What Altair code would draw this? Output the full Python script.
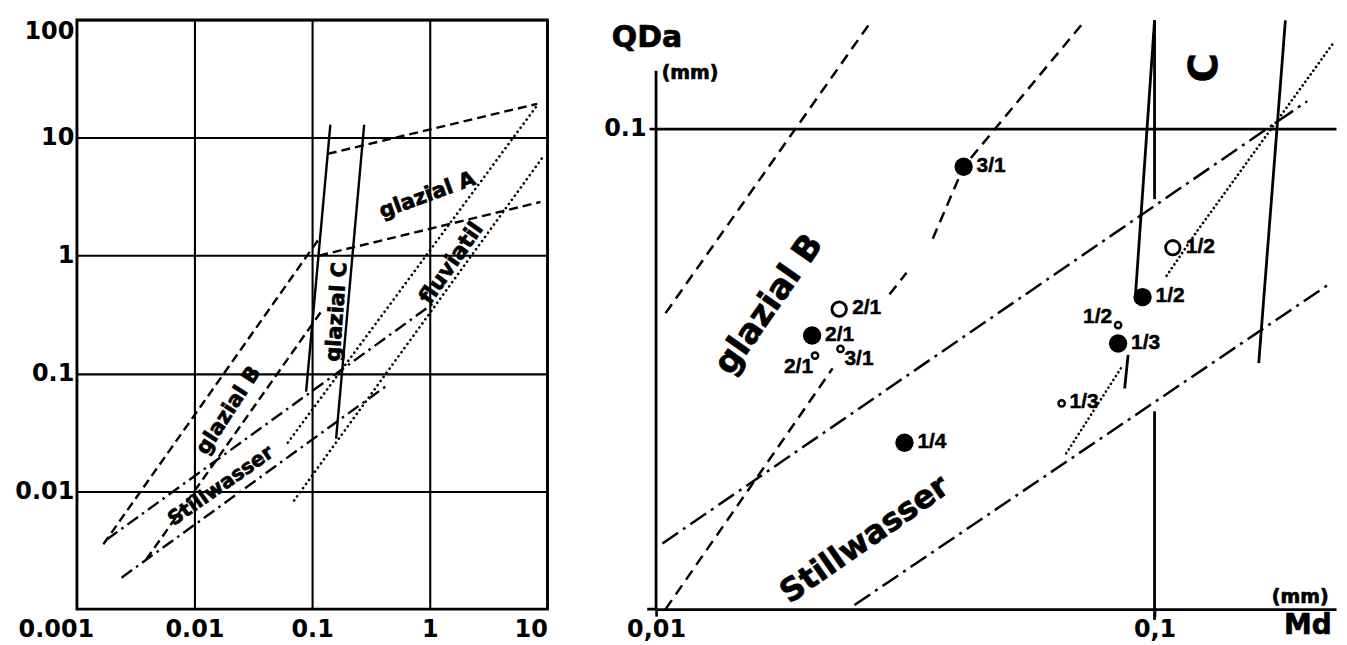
import altair as alt
import pandas as pd

FONT = "DejaVu Sans"
LBLFONT = "Liberation Sans"

# ================= LEFT DIAGRAM (Md vs QDa, log-log) =================
left_x_ticks = [0.001, 0.01, 0.1, 1, 10]
left_y_ticks = [0.01, 0.1, 1, 10, 100]

# dashed boundaries
glazial_a_upper_x = [0.136, 8.2]
glazial_a_upper_y = [7.31, 19.4]
glazial_a_lower_x = [0.115, 8.73]
glazial_a_lower_y = [1.0, 2.85]
glazial_b_upper_x = [0.00168, 0.118]
glazial_b_upper_y = [0.00355, 1.45]
glazial_b_lower_x = [0.0039, 0.122]
glazial_b_lower_y = [0.00265, 0.345]
# solid boundaries (glazial C)
glazial_c_left_x = [0.143, 0.089]
glazial_c_left_y = [12.9, 0.07]
glazial_c_right_x = [0.277, 0.16]
glazial_c_right_y = [12.9, 0.028]
# dash-dot boundaries (Stillwasser)
still_upper_x = [0.0018, 1.1]
still_upper_y = [0.0039, 0.40]
still_lower_x = [0.0024, 0.44]
still_lower_y = [0.00185, 0.080]
# dotted boundaries (fluviatil)
fluv_upper_x = [0.0622, 8.36]
fluv_upper_y = [0.0259, 19.4]
fluv_lower_x = [0.0703, 8.97]
fluv_lower_y = [0.00836, 6.68]

left_text = ["glazial A", "glazial C", "fluviatil", "glazial B", "Stillwasser"]
left_text_x = [0.956, 0.163, 1.52, 0.0196, 0.01675]
left_text_y = [3.24, 0.332, 0.863, 0.0483, 0.0111]

# ================= RIGHT DIAGRAM (enlarged section) =================
right_x_ticks = [0.01, 0.1]
right_y_ticks = [0.1]

# dashed (glazial B)
r_dash1_x = [0.01045, 0.0271]
r_dash1_y = [0.0413, 0.168]
r_dash2a_x = [0.01045, 0.0226]
r_dash2a_y = [0.0100, 0.0317]
r_dash2b_x = [0.0294, 0.0318]
r_dash2b_y = [0.0452, 0.0501]
r_dash2c_x = [0.0359, 0.0414, 0.0726]
r_dash2c_y = [0.059, 0.0833, 0.168]
# solid (glazial C, axis and grid pieces)
r_c_left_x = [0.1, 0.0916]
r_c_left_y = [0.168, 0.0453]
r_c_left_low_x = [0.0885, 0.0871]
r_c_left_low_y = [0.0338, 0.0288]
r_c_right_x = [0.183, 0.1618]
r_c_right_y = [0.168, 0.0325]
r_grid_low_x = [0.1, 0.1]
r_grid_low_y = [0.0095, 0.0258]
r_grid_up_x = [0.1, 0.1]
r_grid_up_y = [0.0713, 0.168]
r_yaxis_x = [0.01, 0.01]
r_yaxis_y = [0.01, 0.132]
r_xaxis_x = [0.0096, 0.01]
r_xaxis_y = [0.01, 0.01]
# dash-dot (Stillwasser)
r_still_upper_x = [0.0103, 0.2023]
r_still_upper_y = [0.0137, 0.114]
r_still_lower_x = [0.025, 0.2236]
r_still_lower_y = [0.0102, 0.0474]
# dotted (fluviatil)
r_fluv_a_x = [0.0665, 0.0864]
r_fluv_a_y = [0.0211, 0.0322]
r_fluv_b_x = [0.1057, 0.122, 0.2285]
r_fluv_b_y = [0.0494, 0.0614, 0.1508]

# samples
pt_label = ["3/1", "2/1", "1/4", "1/2", "1/3", "2/1", "1/2", "2/1", "3/1", "1/2", "1/3"]
pt_x = [0.0414, 0.02056, 0.0315, 0.0946, 0.0845, 0.0233, 0.1088, 0.02084, 0.02344, 0.0845, 0.0651]
pt_y = [0.0833, 0.0371, 0.0222, 0.0446, 0.0357, 0.0421, 0.0565, 0.0337, 0.0348, 0.039, 0.0268]
pt_kind = ["filled", "filled", "filled", "filled", "filled", "open", "open",
           "small", "small", "small", "small"]
pt_pos = ["right", "right", "right", "right", "right", "right", "right",
          "below_left", "below_right", "above_left", "right_small"]

right_text = ["glazial B", "Stillwasser", "C", "QDa", "(mm)", "(mm)", "Md"]
right_text_x = [0.01686, 0.0262, 0.126, 0.00959, 0.0117, 0.196, 0.2031]
right_text_y = [0.0430, 0.01396, 0.1338, 0.1545, 0.1307, 0.0106, 0.00922]


# ---------------- helpers ----------------
def add_line(rows, name, style, xs, ys):
    for i, (x, y) in enumerate(zip(xs, ys)):
        rows.append({"id": name, "style": style, "o": i, "x": x, "y": y})


def line_layer(df, style, X, Y, **mk):
    return (alt.Chart(df)
            .transform_filter(alt.datum.style == style)
            .mark_line(color="black", **mk)
            .encode(x=X, y=Y, detail="id:N", order="o:Q"))


def text_layer(txt, x, y, X, Y, **mk):
    df = pd.DataFrame({"t": [txt], "x": [x], "y": [y]})
    return (alt.Chart(df)
            .mark_text(font=FONT, fontWeight="bold", color="black",
                       stroke="black", strokeWidth=0.7,
                       align="center", baseline="middle", **mk)
            .encode(x=X, y=Y, text="t:N"))


# ---------------- left chart ----------------
lrows = []
add_line(lrows, "gA_up", "dash", glazial_a_upper_x, glazial_a_upper_y)
add_line(lrows, "gA_lo", "dash", glazial_a_lower_x, glazial_a_lower_y)
add_line(lrows, "gB_up", "dash", glazial_b_upper_x, glazial_b_upper_y)
add_line(lrows, "gB_lo", "dash", glazial_b_lower_x, glazial_b_lower_y)
add_line(lrows, "gC_l", "solid", glazial_c_left_x, glazial_c_left_y)
add_line(lrows, "gC_r", "solid", glazial_c_right_x, glazial_c_right_y)
add_line(lrows, "sw_up", "dashdot", still_upper_x, still_upper_y)
add_line(lrows, "sw_lo", "dashdot", still_lower_x, still_lower_y)
add_line(lrows, "fl_up", "dot", fluv_upper_x, fluv_upper_y)
add_line(lrows, "fl_lo", "dot", fluv_lower_x, fluv_lower_y)
left_lines = pd.DataFrame(lrows)

left_x_axis = alt.Axis(
    values=left_x_ticks, format="~g", title=None, grid=True, gridColor="black",
    gridWidth=2.1, gridOpacity=1, ticks=False, domain=False,
    labelFont=FONT, labelFontWeight="bold", labelFontSize=24, labelColor="black",
    labelPadding=8, labelFlush=False, labelOverlap=False,
    labelAlign={"expr": "datum.value > 5 ? 'right' : 'center'"},
    labelOffset={"expr": "datum.value < 0.005 ? -21 : 0"},
)
left_y_axis = alt.Axis(
    values=left_y_ticks, format="~g", title=None, grid=True, gridColor="black",
    gridWidth=2.1, gridOpacity=1, ticks=False, domain=False,
    labelFont=FONT, labelFontWeight="bold", labelFontSize=24, labelColor="black",
    labelPadding=3, labelFlush=True, labelOverlap=False, minExtent=62, maxExtent=62,
)
LX = alt.X("x:Q", scale=alt.Scale(type="log", domain=[0.001, 10], nice=False), axis=left_x_axis)
LY = alt.Y("y:Q", scale=alt.Scale(type="log", domain=[0.001, 100], nice=False), axis=left_y_axis)

left_layers = [
    line_layer(left_lines, "solid", LX, LY, strokeWidth=2.4),
    line_layer(left_lines, "dash", LX, LY, strokeWidth=2.4, strokeDash=[9, 5]),
    line_layer(left_lines, "dashdot", LX, LY, strokeWidth=2.4, strokeDash=[13, 5, 2.5, 5]),
    line_layer(left_lines, "dot", LX, LY, strokeWidth=2.6, strokeDash=[0.1, 5], strokeCap="round"),
]
left_angles = [340, 274, 305, 303, 325]
left_sizes = [21, 21, 22, 21, 20]
for t, x, y, a, s in zip(left_text, left_text_x, left_text_y, left_angles, left_sizes):
    left_layers.append(text_layer(t, x, y, LX, LY, angle=a, fontSize=s))

left = alt.layer(*left_layers).properties(
    width=472, height=591,
    view=alt.ViewBackground(stroke="black", strokeWidth=2.6),
)

# ---------------- right chart ----------------
rrows = []
add_line(rrows, "d1", "dash", r_dash1_x, r_dash1_y)
add_line(rrows, "d2a", "dash", r_dash2a_x, r_dash2a_y)
add_line(rrows, "d2b", "dash", r_dash2b_x, r_dash2b_y)
add_line(rrows, "d2c", "dash", r_dash2c_x, r_dash2c_y)
add_line(rrows, "cl", "solid", r_c_left_x, r_c_left_y)
add_line(rrows, "cll", "solid", r_c_left_low_x, r_c_left_low_y)
add_line(rrows, "cr", "solid", r_c_right_x, r_c_right_y)
add_line(rrows, "gl", "solid", r_grid_low_x, r_grid_low_y)
add_line(rrows, "gu", "solid", r_grid_up_x, r_grid_up_y)
add_line(rrows, "ya", "solid", r_yaxis_x, r_yaxis_y)
add_line(rrows, "xa", "solid", r_xaxis_x, r_xaxis_y)
add_line(rrows, "su", "dashdot", r_still_upper_x, r_still_upper_y)
add_line(rrows, "sl", "dashdot", r_still_lower_x, r_still_lower_y)
add_line(rrows, "fa", "dot", r_fluv_a_x, r_fluv_a_y)
add_line(rrows, "fb", "dot", r_fluv_b_x, r_fluv_b_y)
right_lines = pd.DataFrame(rrows)

right_x_axis = alt.Axis(
    values=right_x_ticks, title=None, grid=False,
    labelExpr="replace(format(datum.value, '~g'), '.', ',')",
    domain=True, domainColor="black", domainWidth=2.8,
    ticks=True, tickSize=7, tickWidth=2.6, tickColor="black",
    labelFont=FONT, labelFontWeight="bold", labelFontSize=24, labelColor="black",
    labelPadding=1, labelFlush=False, labelOverlap=False,
)
right_y_axis = alt.Axis(
    values=right_y_ticks, format="~g", title=None, grid=True, gridColor="black",
    gridWidth=2.6, gridOpacity=1, domain=False,
    ticks=True, tickSize=7, tickWidth=2.6, tickColor="black",
    labelFont=FONT, labelFontWeight="bold", labelFontSize=24, labelColor="black",
    labelPadding=3, labelFlush=False, minExtent=55, maxExtent=55,
)
RX = alt.X("x:Q", scale=alt.Scale(type="log", domain=[0.01, 0.2312], nice=False), axis=right_x_axis)
RY = alt.Y("y:Q", scale=alt.Scale(type="log", domain=[0.01, 0.1683], nice=False), axis=right_y_axis)

pts = pd.DataFrame({"x": pt_x, "y": pt_y, "kind": pt_kind, "label": pt_label, "pos": pt_pos})

right_layers = [
    line_layer(right_lines, "solid", RX, RY, strokeWidth=2.8),
    line_layer(right_lines, "dash", RX, RY, strokeWidth=2.5, strokeDash=[11, 7]),
    line_layer(right_lines, "dashdot", RX, RY, strokeWidth=2.5, strokeDash=[19, 6, 3, 6]),
    line_layer(right_lines, "dot", RX, RY, strokeWidth=2.6, strokeDash=[0.1, 4.5], strokeCap="round"),
    alt.Chart(pts).transform_filter("datum.kind == 'filled'")
       .mark_circle(size=340, color="black", opacity=1).encode(x=RX, y=RY),
    alt.Chart(pts).transform_filter("datum.kind == 'open'")
       .mark_point(shape="circle", filled=False, size=210, strokeWidth=2.8, color="black", opacity=1)
       .encode(x=RX, y=RY),
    alt.Chart(pts).transform_filter("datum.kind == 'small'")
       .mark_point(shape="circle", filled=False, size=40, strokeWidth=2.4, color="black", opacity=1)
       .encode(x=RX, y=RY),
]

label_styles = {
    "right": dict(align="left", dx=13, dy=-1),
    "right_small": dict(align="left", dx=8, dy=-1),
    "below_left": dict(align="right", dx=-2, dy=11),
    "below_right": dict(align="left", dx=4, dy=10),
    "above_left": dict(align="right", dx=-6, dy=-8),
}
for pos, st in label_styles.items():
    right_layers.append(
        alt.Chart(pts).transform_filter(alt.datum.pos == pos)
        .mark_text(font=LBLFONT, fontWeight="bold", fontSize=21, color="black",
                   stroke="black", strokeWidth=0.5, baseline="middle", **st)
        .encode(x=RX, y=RY, text="label:N")
    )

right_angles = [305, 325, 270, 0, 0, 0, 0]
right_sizes = [34, 32, 40, 30, 19, 19, 28]
for t, x, y, a, s in zip(right_text, right_text_x, right_text_y, right_angles, right_sizes):
    right_layers.append(text_layer(t, x, y, RX, RY, angle=a, fontSize=s))

right = alt.layer(*right_layers).properties(
    width=682, height=591,
    view=alt.ViewBackground(strokeWidth=0),
)

chart = (
    alt.hconcat(left, right, spacing=52)
    .properties(padding={"left": 5, "top": 5, "right": 0, "bottom": 0}, background="white")
    .configure_view(strokeWidth=0)
)

chart.save("out.html", embed_options={"renderer": "svg", "actions": False})
